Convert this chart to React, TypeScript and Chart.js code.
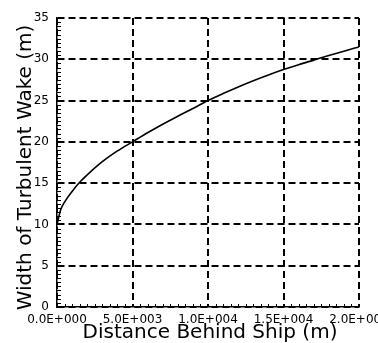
import React, { useEffect, useRef } from "react";
import { Chart, registerables } from "chart.js";

Chart.register(...registerables);

// Data
const distance = [0, 250, 500, 1000, 1500, 2000, 3000, 4000, 5000, 6000, 7000, 8000, 9000, 10000, 11000, 12000, 13000, 14000, 15000, 16000, 17000, 18000, 19000, 20000];
const wakeWidth = [10, 11.8, 12.7, 14.0, 15.1, 16.0, 17.6, 18.9, 20.0, 21.1, 22.13, 23.11, 24.04, 25.0, 25.85, 26.65, 27.4, 28.1, 28.75, 29.35, 29.9, 30.45, 30.98, 31.5];

const xTickValues = [0, 5000, 10000, 15000, 20000];
const xTickLabels = ["0.0E+000", "5.0E+003", "1.0E+004", "1.5E+004", "2.0E+004"];
const yTickValues = [0, 5, 10, 15, 20, 25, 30, 35];
const yTickLabels = ["0", "5", "10", "15", "20", "25", "30", "35"];
const xMinorStep = 500;
const yMinorStep = 0.5;

const xTitle = "Distance Behind Ship (m)";
const yTitle = "Width of Turbulent Wake (m)";

const FONT = '"DejaVu Sans", sans-serif';

const decorPlugin = {
  id: "decor",
  afterDraw(chart: any) {
    const ctx = chart.ctx;
    const xs = chart.scales.x;
    const ys = chart.scales.y;
    const area = chart.chartArea;
    ctx.save();
    ctx.strokeStyle = "#000";
    ctx.fillStyle = "#000";
    ctx.lineWidth = 1;
    ctx.beginPath();
    for (let v = yTickValues[0]; v <= yTickValues[yTickValues.length - 1] + 1e-9; v += yMinorStep) {
      const py = Math.round(ys.getPixelForValue(v)) + 0.5;
      ctx.moveTo(area.left, py);
      ctx.lineTo(area.left + 4, py);
    }
    for (let v = xTickValues[0]; v <= xTickValues[xTickValues.length - 1] + 1e-9; v += xMinorStep) {
      const px = Math.round(xs.getPixelForValue(v)) + 0.5;
      ctx.moveTo(px, area.bottom);
      ctx.lineTo(px, area.bottom - 3);
    }
    ctx.stroke();

    ctx.font = "12px " + FONT;
    ctx.textAlign = "right";
    ctx.textBaseline = "middle";
    yTickValues.forEach((v, i) => {
      ctx.fillText(yTickLabels[i], area.left - 8, ys.getPixelForValue(v));
    });
    ctx.textAlign = "center";
    xTickValues.forEach((v, i) => {
      ctx.fillText(xTickLabels[i], xs.getPixelForValue(v), area.bottom + 13);
    });

    ctx.font = "20px " + FONT;
    ctx.textAlign = "center";
    ctx.textBaseline = "alphabetic";
    ctx.fillText(xTitle, (area.left + area.right) / 2 + 2, area.bottom + 31);

    ctx.translate(area.left - 26, (area.top + area.bottom) / 2 + 5);
    ctx.rotate(-Math.PI / 2);
    ctx.fillText(yTitle, 0, 0);
    ctx.restore();
  },
};

export default function App() {
  const ref = useRef<HTMLCanvasElement>(null);
  useEffect(() => {
    if (!ref.current) return;
    const chart = new Chart(ref.current, {
      type: "line",
      data: {
        datasets: [
          {
            data: distance.map((d, i) => ({ x: d, y: wakeWidth[i] })),
            borderColor: "#000",
            borderWidth: 1.6,
            pointRadius: 0,
            fill: false,
            cubicInterpolationMode: "monotone",
          },
        ],
      },
      options: {
        animation: false,
        responsive: false,
        events: [],
        layout: { padding: { left: 57, top: 18, right: 19, bottom: 36 } },
        plugins: { legend: { display: false }, tooltip: { enabled: false } },
        scales: {
          x: {
            type: "linear",
            min: 0,
            max: 20000,
            ticks: { stepSize: 5000, display: false },
            grid: { color: "#000", lineWidth: 2, drawTicks: false },
            border: { display: true, color: "#000", width: 1.5, dash: [7, 4] },
          },
          y: {
            type: "linear",
            min: 0,
            max: 35,
            ticks: { stepSize: 5, display: false },
            grid: { color: "#000", lineWidth: 2, drawTicks: false },
            border: { display: true, color: "#000", width: 1.5, dash: [7, 4] },
          },
        },
      },
      plugins: [decorPlugin],
    });
    return () => chart.destroy();
  }, []);
  return (
    <div style={{ position: "absolute", left: 0, top: 0, width: 378, height: 343, background: "#fff" }}>
      <canvas ref={ref} width={378} height={343} style={{ display: "block" }} />
    </div>
  );
}
